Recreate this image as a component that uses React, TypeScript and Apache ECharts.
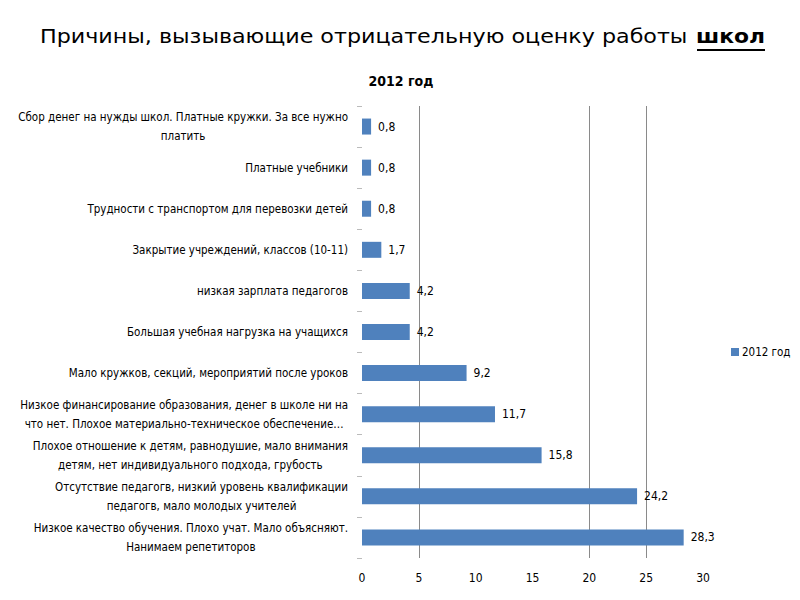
import React, { useEffect, useRef } from "react";
import * as echarts from "echarts";

const categories: string[] = [
  "Сбор денег на нужды школ. Платные кружки. За все нужно\nплатить",
  "Платные учебники",
  "Трудности с транспортом для перевозки детей",
  "Закрытие учреждений, классов (10-11)",
  "низкая зарплата педагогов",
  "Большая учебная нагрузка на учащихся",
  "Мало кружков, секций, мероприятий после уроков",
  "Низкое финансирование образования, денег в школе ни на\nчто нет. Плохое материально-техническое обеспечение…",
  "Плохое отношение к детям, равнодушие, мало внимания\nдетям, нет индивидуального подхода, грубость",
  "Отсутствие педагогв, низкий уровень квалификации\nпедагогв, мало молодых учителей",
  "Низкое качество обучения. Плохо учат. Мало объясняют.\nНанимаем репетиторов",
];
const values2012: number[] = [0.8, 0.8, 0.8, 1.7, 4.2, 4.2, 9.2, 11.7, 15.8, 24.2, 28.3];
const seriesName = "2012 год";
const titleMain = "Причины, вызывающие отрицательную оценку работы";
const titleBold = "школ";
const subtitle = "2012 год";

const NARROW = "'Liberation Sans Narrow', 'DejaVu Sans Condensed', 'Arial Narrow', sans-serif";
const WIDE = "'DejaVu Sans', Verdana, sans-serif";

export default function App() {
  const ref = useRef<HTMLDivElement>(null);
  useEffect(() => {
    if (!ref.current) return;
    const chart = echarts.init(ref.current, null, { renderer: "svg" });
    chart.setOption({
      animation: false,
      backgroundColor: "#ffffff",
      graphic: [
        {
          type: "text",
          x: 40,
          y: 27,
          scaleX: 1.17,
          style: { text: titleMain, font: `19px ${WIDE}`, fill: "#000", align: "left", verticalAlign: "top" },
        },
        {
          type: "text",
          x: 765,
          y: 27,
          scaleX: 1.15,
          style: { text: titleBold, font: `bold 19px ${WIDE}`, fill: "#000", align: "right", verticalAlign: "top" },
        },
        {
          type: "line",
          shape: { x1: 697, y1: 50, x2: 765, y2: 50 },
          style: { stroke: "#000", lineWidth: 2 },
        },
        {
          type: "text",
          x: 401,
          y: 81,
          style: {
            text: subtitle,
            font: `bold 14px ${NARROW}`,
            fill: "#000",
            align: "center",
            verticalAlign: "middle",
          },
        },
      ],
      legend: {
        left: 726,
        top: 341,
        itemWidth: 8,
        itemHeight: 8,
        itemGap: 4,
        icon: "rect",
        data: [seriesName],
        textStyle: { fontFamily: NARROW, fontSize: 11.5, color: "#000", padding: [0, 0, 0, -2] },
      },
      grid: { left: 362, right: 97, top: 106, bottom: 42, containLabel: false },
      xAxis: {
        type: "value",
        min: 0,
        max: 30,
        interval: 5,
        axisLine: { show: false },
        axisTick: { show: false },
        axisLabel: { fontFamily: NARROW, fontSize: 12, color: "#000", margin: 14 },
        splitLine: {
          show: true,
          lineStyle: {
            color: ["transparent", "#8a8a8a", "transparent", "transparent", "#8a8a8a", "#8a8a8a", "transparent"],
            width: 1,
          },
        },
      },
      yAxis: {
        type: "category",
        inverse: true,
        data: categories,
        axisLine: { show: false },
        axisTick: { show: true, length: 5, lineStyle: { color: "#bbbbbb" } },
        axisLabel: {
          margin: 14,
          align: "right",
          formatter: (v: string) => v.split("\n").map((l) => `{c|${l}}`).join("\n"),
          rich: {
            c: {
              align: "center",
              fontFamily: NARROW,
              fontSize: 11.5,
              color: "#000",
              lineHeight: 19,
            },
          },
        },
      },
      series: [
        {
          name: seriesName,
          type: "bar",
          data: values2012,
          barWidth: 16,
          itemStyle: { color: "#4F81BD" },
          label: {
            show: true,
            position: "right",
            distance: 7,
            fontFamily: NARROW,
            fontSize: 12,
            color: "#000",
            formatter: (p: any) => String(p.value).replace(".", ","),
          },
        },
      ],
    });
    return () => chart.dispose();
  }, []);
  return (
    <div
      ref={ref}
      style={{ position: "fixed", left: 0, top: 0, width: 800, height: 600 }}
    />
  );
}
